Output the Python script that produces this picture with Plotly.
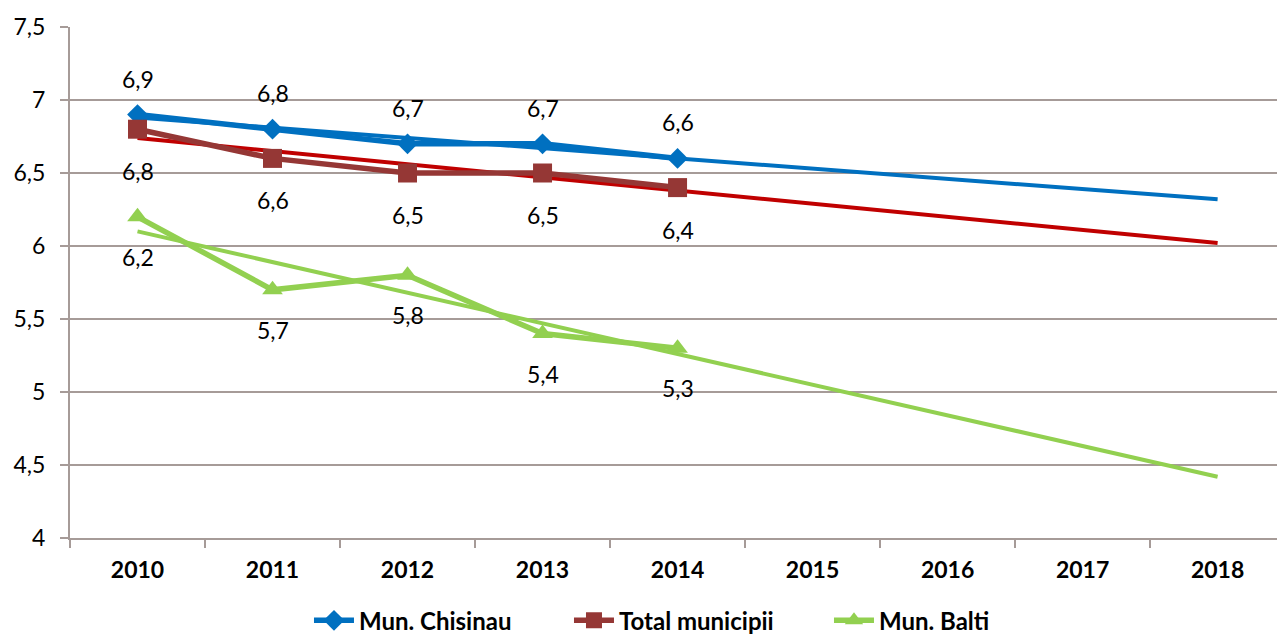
import numpy as np
import plotly.graph_objects as go

years = ["2010", "2011", "2012", "2013", "2014", "2015", "2016", "2017", "2018"]
observed_years = years[:5]

chisinau = [6.9, 6.8, 6.7, 6.7, 6.6]
total_municipii = [6.8, 6.6, 6.5, 6.5, 6.4]
balti = [6.2, 5.7, 5.8, 5.4, 5.3]

y_ticks = [4, 4.5, 5, 5.5, 6, 6.5, 7, 7.5]

FONT = "Lato"


def comma(v):
    return f"{v:g}".replace(".", ",")


def trend(values):
    # least-squares linear trend over observed years, projected to the last year
    x_obs = np.arange(len(values))
    slope, intercept = np.polyfit(x_obs, values, 1)
    x_all = np.arange(len(years))
    return list(slope * x_all + intercept)


series = [
    dict(name="Mun. Chisinau", values=chisinau, color="#0070C0", trend_color="#0070C0",
         symbol="diamond", size=16, label_shift=36),
    dict(name="Total municipii", values=total_municipii, color="#953735", trend_color="#C00000",
         symbol="square", size=19, label_shift=-42),
    dict(name="Mun. Balti", values=balti, color="#92D050", trend_color="#92D050",
         symbol="triangle-up", size=18, label_shift=-40),
]

fig = go.Figure()

# trend lines first so the data lines sit on top
for s in series:
    fig.add_trace(go.Scatter(
        x=years, y=trend(s["values"]), mode="lines",
        line=dict(color=s["trend_color"], width=4),
        showlegend=False, hoverinfo="skip",
    ))

for s in series:
    fig.add_trace(go.Scatter(
        x=observed_years, y=s["values"], name=s["name"],
        mode="lines+markers",
        line=dict(color=s["color"], width=5.5),
        marker=dict(symbol=s["symbol"], size=s["size"], color=s["color"]),
        cliponaxis=False,
    ))
    # value labels; category axes take the position index for annotations
    for idx, v in enumerate(s["values"]):
        fig.add_annotation(
            x=idx, y=v, text=comma(v), showarrow=False,
            yshift=s["label_shift"], xanchor="center", yanchor="middle",
            font=dict(family=FONT, size=23, color="#000000"),
        )

grid_color = "#A69B98"

fig.update_layout(
    width=1277, height=638,
    margin=dict(l=70, r=0, t=27, b=100),
    paper_bgcolor="white", plot_bgcolor="white",
    font=dict(family=FONT, size=22, color="#000000"),
    xaxis=dict(
        type="category", categoryorder="array", categoryarray=years,
        range=[-0.5, 8.44],
        showgrid=False, showline=True, linecolor=grid_color, linewidth=2,
        ticks="outside", tickson="boundaries", ticklen=8, tickcolor=grid_color, tickwidth=2,
        tickfont=dict(family=FONT, size=23, color="#000000", weight="bold"),
        ticklabelstandoff=10, automargin=False,
        zeroline=False,
    ),
    yaxis=dict(
        range=[4, 7.5],
        tickvals=y_ticks, ticktext=[comma(v) for v in y_ticks],
        showgrid=True, gridcolor=grid_color, gridwidth=2,
        showline=True, linecolor=grid_color, linewidth=2,
        ticks="outside", ticklen=8, tickcolor=grid_color, tickwidth=2,
        tickfont=dict(family=FONT, size=23, color="#000000"),
        ticklabelstandoff=10, automargin=False,
        zeroline=False,
    ),
    legend=dict(
        orientation="h", xref="paper", x=0.198, xanchor="left",
        yref="container", y=0.027, yanchor="middle",
        font=dict(family=FONT, size=24, color="#000000", weight="bold"),
        entrywidth=205, entrywidthmode="pixels",
        itemwidth=40, bgcolor="rgba(0,0,0,0)",
    ),
    showlegend=True,
)

fig.write_html("out.html")
